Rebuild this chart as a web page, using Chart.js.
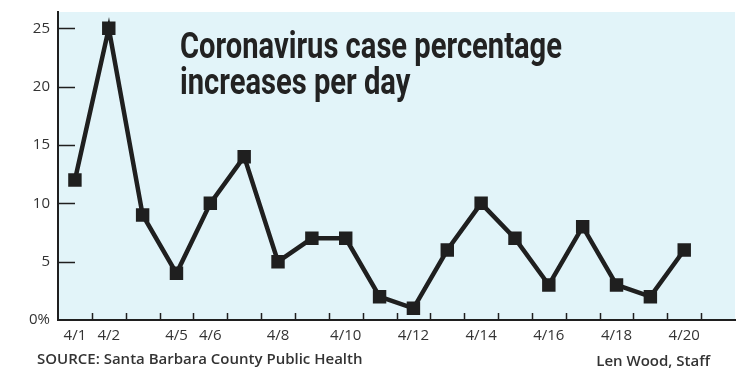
<!DOCTYPE html>
<html lang="en">
<head>
    <meta charset="UTF-8">
    <title>Coronavirus case percentage increases per day</title>
    <script src="https://cdn.jsdelivr.net/npm/chart.js"></script>
    <style>
        body { margin: 0; background: #ffffff; }
        .chart-container { position: relative; width: 750px; height: 388px; }
    </style>
</head>
<body>
    <div class="chart-container">
        <canvas id="caseChart"></canvas>
    </div>

<script>
    // Datos
    var dayLabels = ['4/1', '4/2', '', '4/5', '4/6', '', '4/8', '', '4/10', '', '4/12', '', '4/14', '', '4/16', '', '4/18', '', '4/20', ''];
    var increasePct = [12, 25, 9, 4, 10, 14, 5, 7, 7, 2, 1, 6, 10, 7, 3, 8, 3, 2, 6, null];
    var yTicks = [0, 5, 10, 15, 20, 25];

    var titleLines = ['Coronavirus case percentage', 'increases per day'];
    var sourceText = 'SOURCE: Santa Barbara County Public Health';
    var creditText = 'Len Wood, Staff';

    var ink = '#1f1f1f';
    var labelColor = '#333333';

    // Fondo azul, marcas cortas de los ejes, titulo y pie
    var decor = {
        id: 'decor',
        beforeDraw: function(chart) {
            var a = chart.chartArea, ctx = chart.ctx;
            ctx.save();
            ctx.fillStyle = '#e2f4f9';
            ctx.fillRect(a.left, a.top, a.right - a.left, a.bottom - a.top);
            ctx.restore();
        },
        beforeDatasetsDraw: function(chart) {
            var a = chart.chartArea, ctx = chart.ctx;
            var xs = chart.scales.x, ys = chart.scales.y;
            ctx.save();
            ctx.strokeStyle = ink;
            ctx.lineWidth = 1.5;
            ys.ticks.forEach(function(t) {
                if (t.value === 0) return;
                var y = Math.round(ys.getPixelForValue(t.value)) + 0.5;
                ctx.beginPath();
                ctx.moveTo(a.left, y);
                ctx.lineTo(a.left + 17, y);
                ctx.stroke();
            });
            for (var i = 1; i < dayLabels.length; i++) {
                var x = Math.round((xs.getPixelForValue(i - 1) + xs.getPixelForValue(i)) / 2) + 0.5;
                ctx.beginPath();
                ctx.moveTo(x, a.bottom);
                ctx.lineTo(x, a.bottom - 7);
                ctx.stroke();
            }
            ctx.restore();
        },
        afterDraw: function(chart) {
            var ctx = chart.ctx;
            ctx.save();
            // titulo condensado
            ctx.fillStyle = '#222222';
            ctx.font = 'bold 36px Roboto';
            ctx.textBaseline = 'alphabetic';
            var k = 382 / ctx.measureText(titleLines[0]).width;
            ctx.translate(180, 0);
            ctx.scale(k, 1);
            ctx.fillText(titleLines[0], 0, 58);
            ctx.fillText(titleLines[1], 0, 94);
            ctx.restore();

            ctx.save();
            ctx.fillStyle = labelColor;
            ctx.font = '600 15px "Open Sans"';
            ctx.textAlign = 'left';
            ctx.fillText(sourceText, 37, 364);
            ctx.textAlign = 'right';
            ctx.fillText(creditText, 710, 366);
            ctx.restore();
        }
    };

    var ctx = document.getElementById('caseChart').getContext('2d');
    var caseChart = new Chart(ctx, {
        type: 'line',
        data: {
            labels: dayLabels,
            datasets: [{
                data: increasePct,
                borderColor: ink,
                borderWidth: 4.5,
                backgroundColor: ink,
                pointStyle: 'rect',
                pointRadius: 9.5,
                pointBorderWidth: 0,
                pointBackgroundColor: ink,
                tension: 0
            }]
        },
        options: {
            responsive: true,
            maintainAspectRatio: false,
            animation: false,
            layout: { padding: { top: 12, right: 15, left: 0, bottom: 0 } },
            plugins: {
                legend: { display: false },
                tooltip: { enabled: false }
            },
            scales: {
                x: {
                    offset: true,
                    grid: { display: false, drawTicks: false },
                    border: { display: true, color: ink, width: 2 },
                    ticks: {
                        autoSkip: false,
                        maxRotation: 0,
                        padding: 7,
                        color: labelColor,
                        font: { family: 'Open Sans', size: 15 }
                    },
                    afterFit: function(scale) {
                        scale.height = 68;
                        scale.paddingLeft = 0;
                        scale.paddingRight = 0;
                    }
                },
                y: {
                    min: 0,
                    max: 26.4,
                    grid: { display: false, drawTicks: false },
                    border: { display: true, color: ink, width: 2 },
                    afterBuildTicks: function(scale) {
                        scale.ticks = yTicks.map(function(v) { return { value: v }; });
                    },
                    ticks: {
                        padding: 8,
                        color: labelColor,
                        font: { family: 'Open Sans', size: 15 },
                        callback: function(value) { return value === 0 ? '0%' : value; }
                    },
                    afterFit: function(scale) {
                        scale.width = 58;
                        scale.paddingTop = 0;
                        scale.paddingBottom = 0;
                    }
                }
            }
        },
        plugins: [decor]
    });
</script>
</body>
</html>
